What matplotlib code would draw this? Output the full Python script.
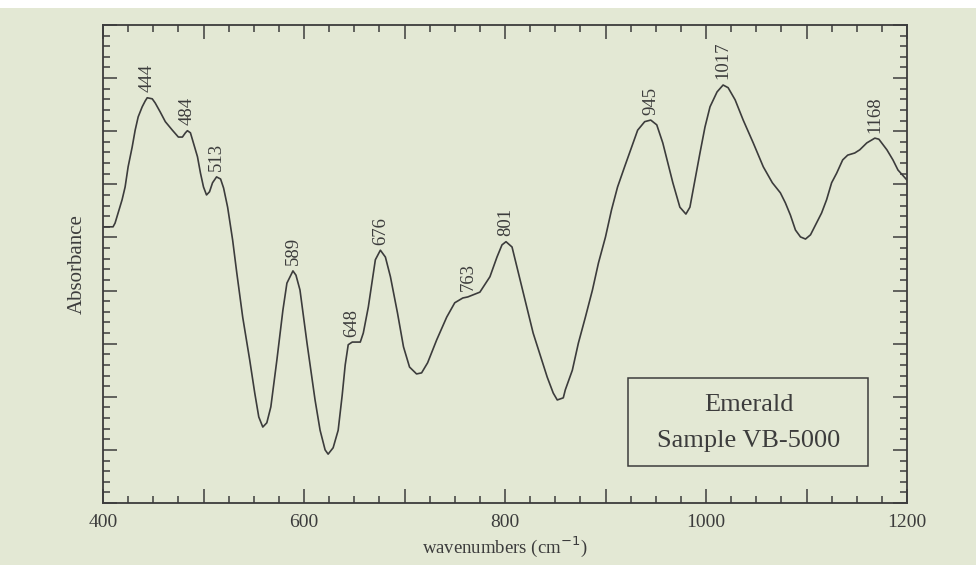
import numpy as np
import matplotlib.pyplot as plt
from matplotlib.ticker import MultipleLocator, FuncFormatter
from matplotlib.patches import Rectangle

# spectrum (wavenumber, absorbance in arbitrary units)
wavenumber = [400, 410, 412, 415, 419, 422, 425, 429, 432, 435, 439, 442, 444,
              449, 452, 457, 462, 469, 475, 479, 482, 484, 487, 490, 494, 497,
              500, 503, 506, 509, 513, 517, 520, 524, 529, 533, 539, 546, 551,
              555, 559, 563, 567, 573, 579, 583, 589, 592, 596, 603, 611, 616,
              621, 624, 629, 634, 638, 641, 644, 648, 656, 659, 664, 668, 671,
              676, 681, 686, 693, 699, 705, 712, 717, 723, 732, 742, 750, 758,
              763, 775, 785, 792, 797, 801, 807, 815, 828, 842, 848, 852, 858,
              860, 867, 873, 880, 887, 893, 900, 906, 912, 919, 926, 932, 939,
              945, 951, 957, 967, 974, 980, 984, 989, 994, 999, 1004, 1011, 1017,
              1022, 1029, 1037, 1047, 1057, 1066, 1074, 1079, 1084, 1089, 1094,
              1099, 1104, 1108, 1115, 1120, 1125, 1130, 1136, 1141, 1148, 1153,
              1160, 1168, 1172, 1180, 1186, 1191, 1200]
absorbance = [5.20, 5.20, 5.27, 5.46, 5.71, 5.95, 6.33, 6.70, 7.02, 7.27, 7.46,
              7.57, 7.63, 7.61, 7.53, 7.36, 7.18, 7.02, 6.89, 6.89, 6.97, 7.01,
              6.97, 6.78, 6.52, 6.21, 5.95, 5.80, 5.86, 6.03, 6.14, 6.10, 5.93,
              5.57, 4.95, 4.35, 3.50, 2.69, 2.07, 1.62, 1.43, 1.51, 1.81, 2.69,
              3.63, 4.14, 4.37, 4.29, 4.01, 3.01, 1.94, 1.37, 1.00, 0.92, 1.04,
              1.37, 2.03, 2.60, 2.98, 3.03, 3.03, 3.20, 3.69, 4.20, 4.58, 4.76,
              4.63, 4.26, 3.58, 2.94, 2.56, 2.43, 2.45, 2.64, 3.07, 3.50, 3.77,
              3.86, 3.88, 3.97, 4.26, 4.63, 4.86, 4.92, 4.82, 4.20, 3.20, 2.37,
              2.07, 1.94, 1.98, 2.13, 2.50, 3.01, 3.50, 4.01, 4.52, 5.01, 5.52,
              5.95, 6.33, 6.70, 7.02, 7.18, 7.21, 7.12, 6.78, 6.03, 5.57, 5.44,
              5.57, 6.08, 6.59, 7.08, 7.46, 7.74, 7.87, 7.82, 7.59, 7.21, 6.78,
              6.33, 6.03, 5.84, 5.65, 5.42, 5.14, 5.01, 4.97, 5.05, 5.20, 5.46,
              5.71, 6.03, 6.21, 6.46, 6.55, 6.59, 6.65, 6.78, 6.87, 6.85, 6.65,
              6.46, 6.27, 6.08]

peaks = [444, 484, 513, 589, 648, 676, 763, 801, 945, 1017, 1168]
sample_name = "Emerald"
sample_id = "Sample VB-5000"

bg = '#e3e8d4'
ink = '#3c3c3c'
plt.rcParams['font.family'] = ['Liberation Serif', 'DejaVu Serif']

fig = plt.figure(figsize=(9.76, 5.65), dpi=100, facecolor=bg)
fig.patches.append(Rectangle((0, 1 - 8 / 565), 1, 8 / 565, transform=fig.transFigure,
                             facecolor='white', edgecolor='none'))
ax = fig.add_axes([103 / 976, 62 / 565, 804 / 976, 478 / 565])
ax.set_facecolor(bg)

ax.plot(wavenumber, absorbance, color=ink, lw=1.2, solid_joinstyle='round')

for p in peaks:
    y = np.interp(p, wavenumber, absorbance)
    ax.annotate(str(p), (p, y), xytext=(0, 4), textcoords='offset points',
                rotation=90, ha='center', va='bottom', fontsize=13.5, color=ink)

ax.set_xlim(400, 1200)
ax.set_ylim(0, 9)
ax.xaxis.set_major_locator(MultipleLocator(100))
ax.xaxis.set_minor_locator(MultipleLocator(25))
ax.xaxis.set_major_formatter(FuncFormatter(lambda v, pos: '%d' % v if v % 200 == 0 else ''))
ax.yaxis.set_major_locator(MultipleLocator(1))
ax.yaxis.set_minor_locator(MultipleLocator(0.2))
ax.yaxis.set_major_formatter(FuncFormatter(lambda v, pos: ''))
ax.tick_params(which='both', direction='in', top=True, right=True, color=ink,
               width=1.1, labelsize=14, labelcolor=ink, pad=8)
ax.tick_params(which='major', length=10)
ax.tick_params(which='minor', length=5)
for s in ax.spines.values():
    s.set_color(ink)
    s.set_linewidth(1.3)

ax.set_xlabel('wavenumbers (cm$^{-1}$)', fontsize=13.5, color=ink, labelpad=2)
ax.set_ylabel('Absorbance', fontsize=15, color=ink, labelpad=4)

ax.add_patch(Rectangle((0.653, 0.077), 0.298, 0.185, transform=ax.transAxes,
                       facecolor='none', edgecolor=ink, lw=1.1))
ax.text(0.803, 0.205, sample_name, transform=ax.transAxes, ha='center', va='center',
        fontsize=19, color=ink)
ax.text(0.803, 0.13, sample_id, transform=ax.transAxes, ha='center', va='center',
        fontsize=19, color=ink)

plt.savefig('out.png', dpi=100, facecolor=bg)
